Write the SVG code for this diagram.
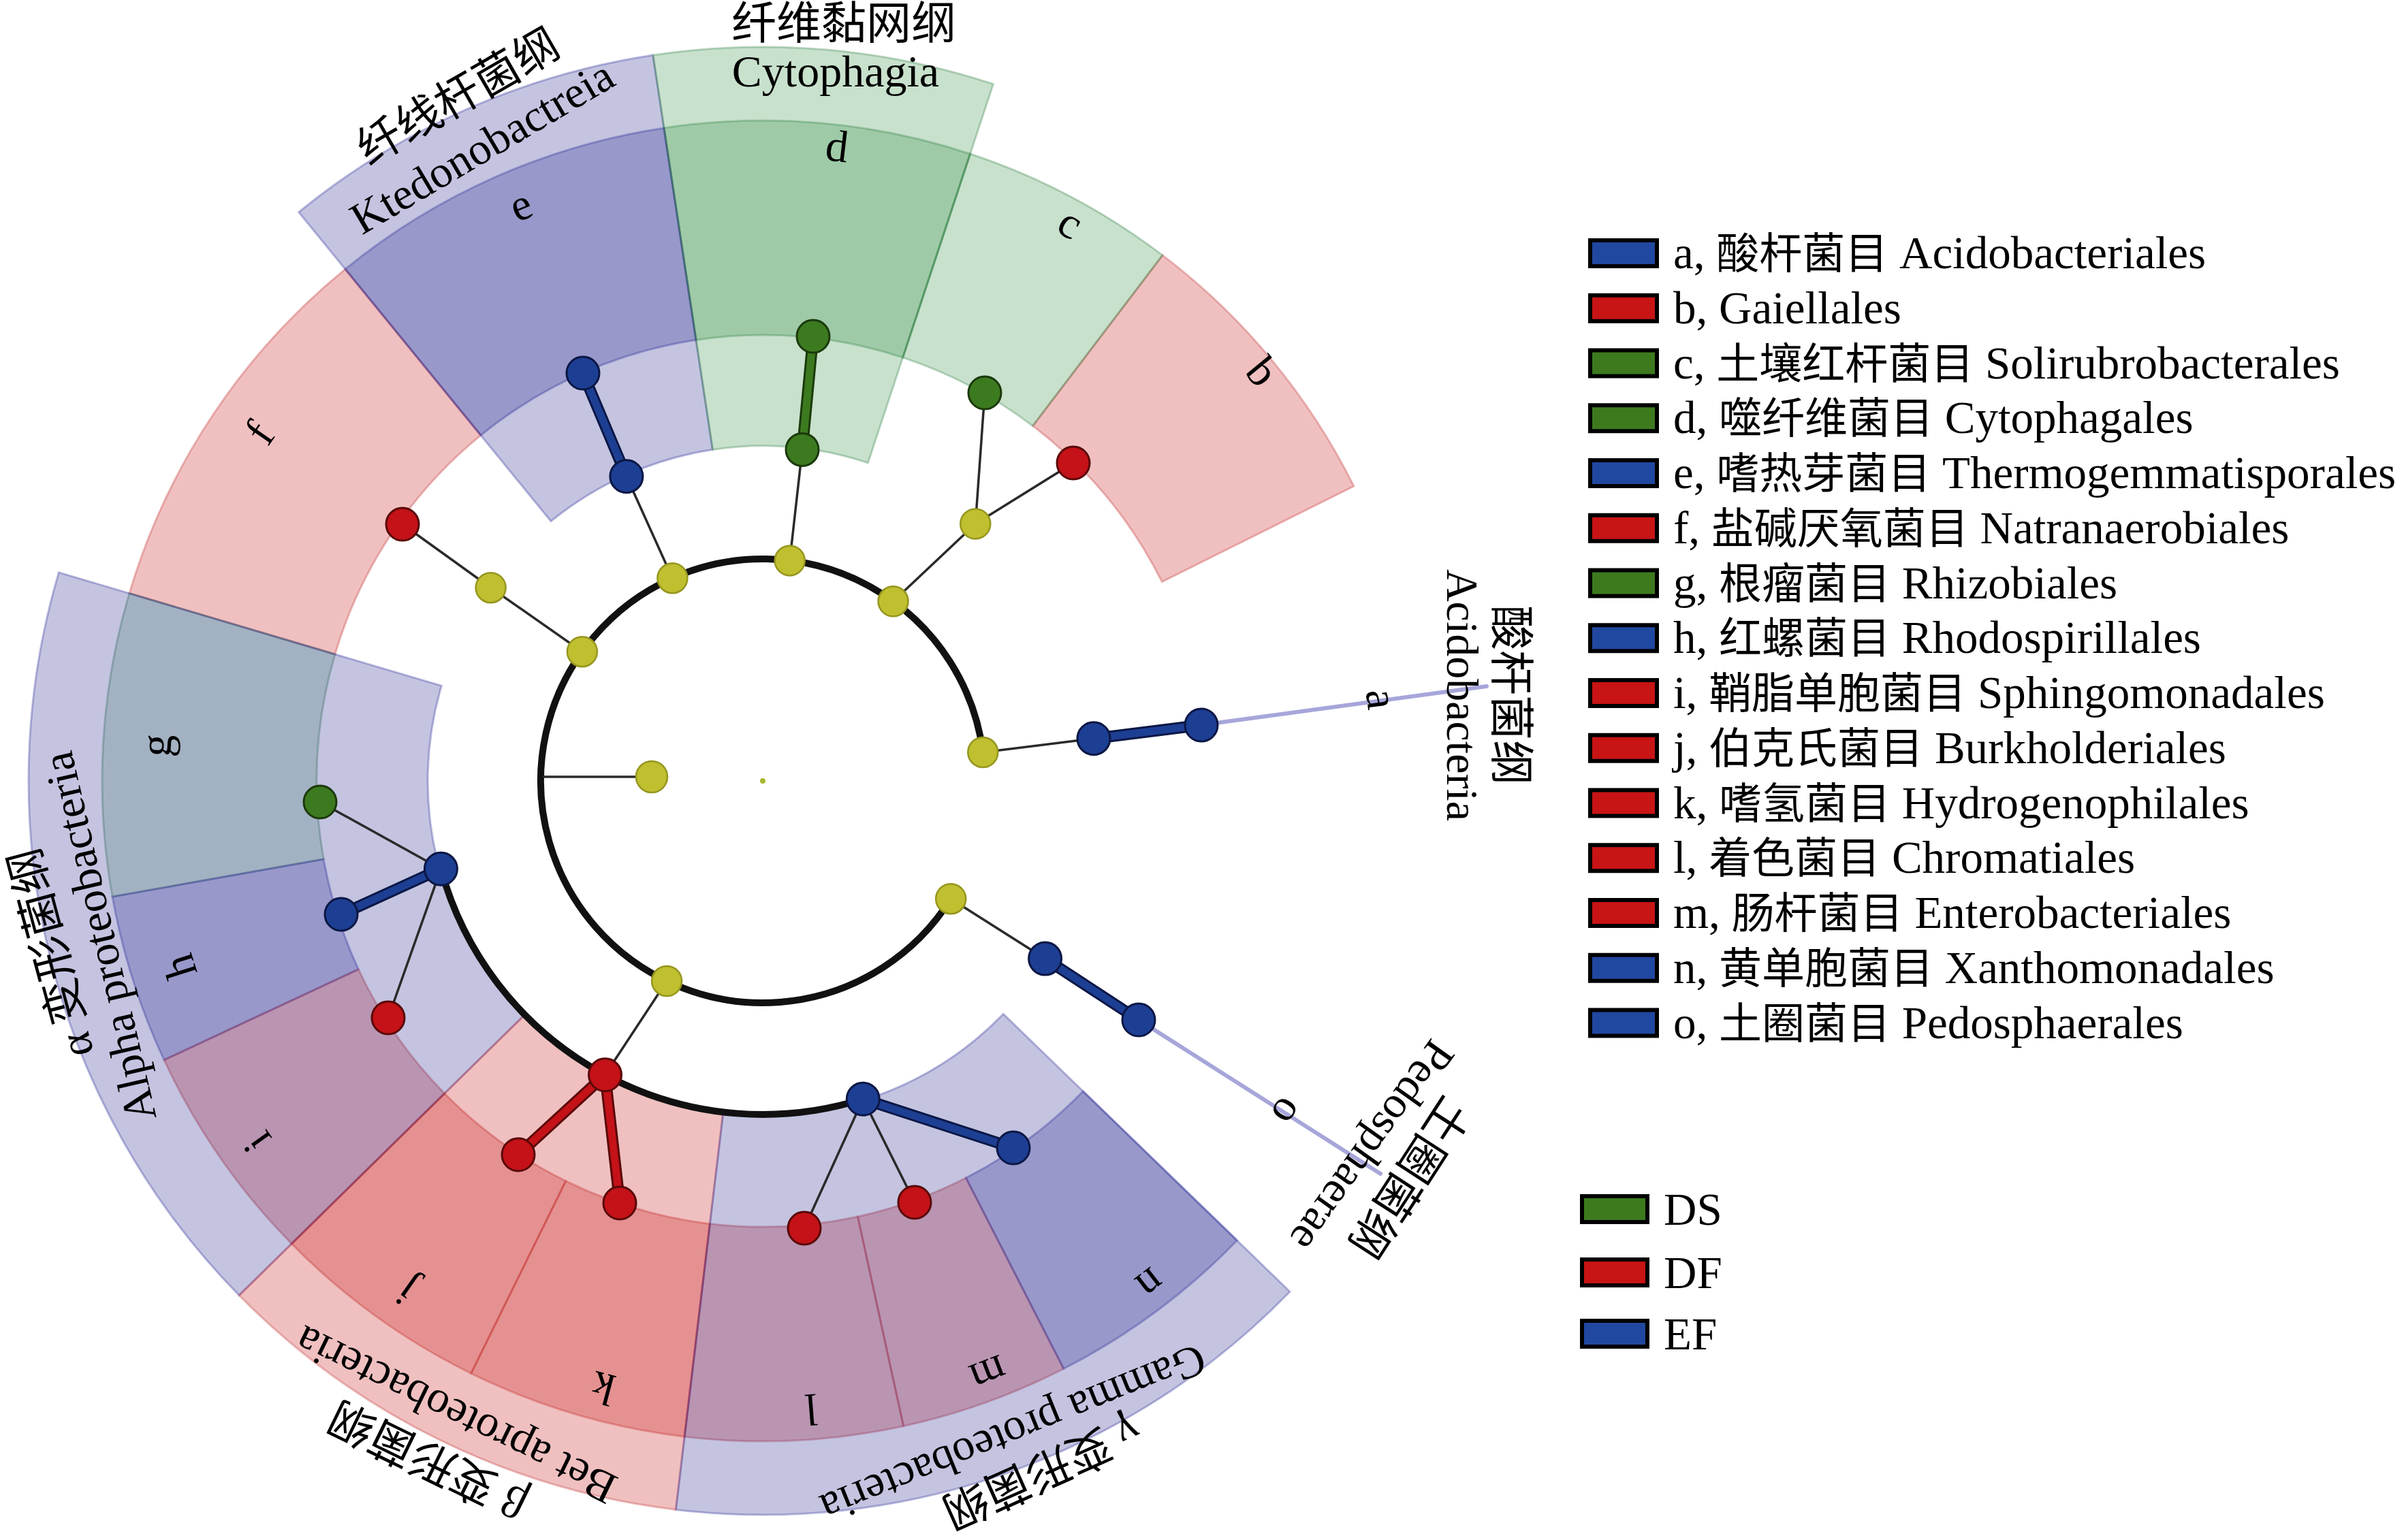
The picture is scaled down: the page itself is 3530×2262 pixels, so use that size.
<svg xmlns="http://www.w3.org/2000/svg" width="3530" height="2262" viewBox="0 0 3530 2262">
<style>
text{font-family:"Liberation Serif","Noto Sans CJK SC",serif;fill:#000;font-size:66px}
.leg text{font-size:67px}
.cj{font-size:63px}
.lab{text-anchor:middle}
.sb{fill:#1a1a8c;fill-opacity:.26;stroke:#3c3ca0;stroke-opacity:.35;stroke-width:3}
.sr{fill:#c30303;fill-opacity:.25;stroke:#c03030;stroke-opacity:.3;stroke-width:3}
.sg{fill:#238737;fill-opacity:.25;stroke:#2a7a3a;stroke-opacity:.3;stroke-width:3}
.arc{fill:none;stroke:#111;stroke-width:10}
.thin{stroke:#2a2a2a;stroke-width:3.5;fill:none}
.ext{stroke:#a6a6da;stroke-width:6;stroke-linecap:round}
.tbo{stroke:#0b1745;stroke-width:17;stroke-linecap:round}
.tbi{stroke:#1d3f93;stroke-width:11;stroke-linecap:round}
.tro{stroke:#5a0808;stroke-width:17;stroke-linecap:round}
.tri{stroke:#c41218;stroke-width:11;stroke-linecap:round}
.tgo{stroke:#1b3a0c;stroke-width:17;stroke-linecap:round}
.tgi{stroke:#3c7a1f;stroke-width:11;stroke-linecap:round}
.ny{fill:#bfbf30;stroke:#96961e;stroke-width:2.5}
.nb{fill:#1d3f93;stroke:#0b1745;stroke-width:3}
.nr{fill:#c41218;stroke:#5a0808;stroke-width:3}
.ng{fill:#3c7a1f;stroke:#1b3a0c;stroke-width:3}
.swb{fill:#2148a0;stroke:#000;stroke-width:6}
.swr{fill:#c81414;stroke:#000;stroke-width:6}
.swg{fill:#3d7a1e;stroke:#000;stroke-width:6}
</style>

<g id="order-sectors">
<path id="sec-b" class="sr" d="M1707.1 374.9 A970 970 0 0 1 1988.1 714.2 L1706.2 854.7 A655 655 0 0 0 1516.5 625.6 Z"/>
<path id="sec-c" class="sg" d="M1424.6 226.0 A970 970 0 0 1 1707.1 374.9 L1516.5 625.6 A655 655 0 0 0 1325.7 525.1 Z"/>
<path id="sec-d" class="sg" d="M975.0 187.9 A970 970 0 0 1 1424.6 226.0 L1325.7 525.1 A655 655 0 0 0 1022.1 499.4 Z"/>
<path id="sec-e" class="sb" d="M506.9 395.3 A970 970 0 0 1 975.0 187.9 L1022.1 499.4 A655 655 0 0 0 706.0 639.4 Z"/>
<path id="sec-f" class="sr" d="M189.9 871.5 A970 970 0 0 1 506.9 395.3 L706.0 639.4 A655 655 0 0 0 492.0 961.0 Z"/>
<path id="sec-g" class="sg" d="M165.0 1317.1 A970 970 0 0 1 189.9 871.5 L492.0 961.0 A655 655 0 0 0 475.2 1261.9 Z" style="fill-opacity:.2"/>
<path id="sec-h" class="sb" d="M240.9 1556.9 A970 970 0 0 1 165.0 1317.1 L475.2 1261.9 A655 655 0 0 0 526.4 1423.8 Z"/>
<path id="sec-i" class="sr" d="M428.2 1826.9 A970 970 0 0 1 240.9 1556.9 L526.4 1423.8 A655 655 0 0 0 652.8 1606.1 Z"/>
<path id="sec-j" class="sr" d="M691.7 2017.3 A970 970 0 0 1 428.2 1826.9 L652.8 1606.1 A655 655 0 0 0 830.8 1734.7 Z"/>
<path id="sec-k" class="sr" d="M1005.1 2110.2 A970 970 0 0 1 691.7 2017.3 L830.8 1734.7 A655 655 0 0 0 1042.4 1797.4 Z"/>
<path id="sec-l" class="sr" d="M1326.6 2094.7 A970 970 0 0 1 1005.1 2110.2 L1042.4 1797.4 A655 655 0 0 0 1259.5 1787.0 Z"/>
<path id="sec-m" class="sr" d="M1561.9 2010.5 A970 970 0 0 1 1326.6 2094.7 L1259.5 1787.0 A655 655 0 0 0 1418.4 1730.1 Z"/>
<path id="sec-n" class="sb" d="M1816.6 1822.0 A970 970 0 0 1 1561.9 2010.5 L1418.4 1730.1 A655 655 0 0 0 1590.4 1602.8 Z"/>
</g>
<g id="class-sectors">
<path id="sec-ktedonobacteria" class="sb" d="M438.7 311.6 A1078 1078 0 0 1 958.8 81.1 L1046.4 660.5 A492 492 0 0 0 809.0 765.7 Z"/>
<path id="sec-cytophagia" class="sg" d="M958.8 81.1 A1078 1078 0 0 1 1458.5 123.5 L1274.5 679.9 A492 492 0 0 0 1046.4 660.5 Z"/>
<path id="sec-alpha" class="sb" d="M351.1 1902.6 A1078 1078 0 0 1 86.4 840.8 L648.3 1007.3 A492 492 0 0 0 769.1 1491.8 Z"/>
<path id="sec-beta" class="sr" d="M992.4 2217.4 A1078 1078 0 0 1 351.1 1902.6 L769.1 1491.8 A492 492 0 0 0 1061.7 1635.5 Z"/>
<path id="sec-gamma" class="sb" d="M1894.1 1897.2 A1078 1078 0 0 1 992.4 2217.4 L1061.7 1635.5 A492 492 0 0 0 1473.3 1489.4 Z"/>
</g>

<g id="connectors">
<line class="ext" x1="1764" y1="1065" x2="2183" y2="1008"/>
<line class="ext" x1="1672" y1="1498" x2="2027" y2="1724"/>
<path class="arc" d="M1396.2 1320.2 A326 326 0 1 1 1443.3 1105.0"/>
<path class="arc" d="M1267.3 1614.3 A490 490 0 0 1 647.4 1276.3"/>
<line class="thin" x1="957" y1="1141" x2="797" y2="1141"/>
<line class="thin" x1="1443.3" y1="1105.0" x2="1606.0" y2="1084.7"/>
<line class="thin" x1="1396.2" y1="1320.2" x2="1534.6" y2="1408.1"/>
<polyline class="thin" points="854.9,957.2 720.6,863.2 591,770"/>
<line class="thin" x1="987.4" y1="849.2" x2="919.9" y2="699.7"/>
<line class="thin" x1="1159.7" y1="823.4" x2="1178.0" y2="660.4"/>
<line class="thin" x1="1311.6" y1="883.3" x2="1432.3" y2="769.4"/>
<line class="thin" x1="1432.3" y1="769.4" x2="1446" y2="577"/>
<line class="thin" x1="1432.3" y1="769.4" x2="1576" y2="680"/>
<line class="thin" x1="979.1" y1="1441.0" x2="888.5" y2="1578.8"/>
<line class="thin" x1="647.4" y1="1276.3" x2="470" y2="1178"/>
<line class="thin" x1="647.4" y1="1276.3" x2="570" y2="1495"/>
<line class="thin" x1="1267.3" y1="1614.3" x2="1181" y2="1804"/>
<line class="thin" x1="1267.3" y1="1614.3" x2="1343" y2="1766"/>
<line class="tbo" x1="1606.0" y1="1084.7" x2="1764" y2="1065"/><line class="tbi" x1="1606.0" y1="1084.7" x2="1764" y2="1065"/>
<line class="tbo" x1="1534.6" y1="1408.1" x2="1672" y2="1498"/><line class="tbi" x1="1534.6" y1="1408.1" x2="1672" y2="1498"/>
<line class="tbo" x1="919.9" y1="699.7" x2="856" y2="548"/><line class="tbi" x1="919.9" y1="699.7" x2="856" y2="548"/>
<line class="tgo" x1="1178.0" y1="660.4" x2="1194" y2="494"/><line class="tgi" x1="1178.0" y1="660.4" x2="1194" y2="494"/>
<line class="tbo" x1="647.4" y1="1276.3" x2="501" y2="1343"/><line class="tbi" x1="647.4" y1="1276.3" x2="501" y2="1343"/>
<line class="tro" x1="888.5" y1="1578.8" x2="761" y2="1696"/><line class="tri" x1="888.5" y1="1578.8" x2="761" y2="1696"/>
<line class="tro" x1="888.5" y1="1578.8" x2="910" y2="1767"/><line class="tri" x1="888.5" y1="1578.8" x2="910" y2="1767"/>
<line class="tbo" x1="1267.3" y1="1614.3" x2="1488" y2="1686"/><line class="tbi" x1="1267.3" y1="1614.3" x2="1488" y2="1686"/>
</g>

<g id="nodes">
<g id="node-root"><circle cx="1120" cy="1147" r="4" fill="#a9b830"/></g>
<g id="node-bacteria"><circle class="ny" cx="957" cy="1141" r="23"/></g>
<g id="node-acidobacteria-p"><circle class="ny" cx="1443.3" cy="1105.0" r="22"/></g>
<g id="node-verrucomicrobia-p"><circle class="ny" cx="1396.2" cy="1320.2" r="22"/></g>
<g id="node-proteobacteria-p"><circle class="ny" cx="979.1" cy="1441.0" r="22"/></g>
<g id="node-firmicutes-p"><circle class="ny" cx="854.9" cy="957.2" r="22"/></g>
<g id="node-chloroflexi-p"><circle class="ny" cx="987.4" cy="849.2" r="22"/></g>
<g id="node-bacteroidetes-p"><circle class="ny" cx="1159.7" cy="823.4" r="22"/></g>
<g id="node-actinobacteria-p"><circle class="ny" cx="1311.6" cy="883.3" r="22"/></g>
<g id="node-acidobacteria-c"><circle class="nb" cx="1606.0" cy="1084.7" r="24"/></g>
<g id="node-pedosphaerae-c"><circle class="nb" cx="1534.6" cy="1408.1" r="24"/></g>
<g id="node-firmicutes-c"><circle class="ny" cx="720.6" cy="863.2" r="22"/></g>
<g id="node-ktedonobacteria-c"><circle class="nb" cx="919.9" cy="699.7" r="24"/></g>
<g id="node-cytophagia-c"><circle class="ng" cx="1178.0" cy="660.4" r="24"/></g>
<g id="node-actinobacteria-c"><circle class="ny" cx="1432.3" cy="769.4" r="22"/></g>
<g id="node-alpha-c"><circle class="nb" cx="647.4" cy="1276.3" r="24"/></g>
<g id="node-beta-c"><circle class="nr" cx="888.5" cy="1578.8" r="24"/></g>
<g id="node-gamma-c"><circle class="nb" cx="1267.3" cy="1614.3" r="24"/></g>
<g id="node-a"><circle class="nb" cx="1764" cy="1065" r="24"/></g>
<g id="node-o"><circle class="nb" cx="1672" cy="1498" r="24"/></g>
<g id="node-b"><circle class="nr" cx="1576" cy="680" r="24"/></g>
<g id="node-c"><circle class="ng" cx="1446" cy="577" r="24"/></g>
<g id="node-d"><circle class="ng" cx="1194" cy="494" r="24"/></g>
<g id="node-e"><circle class="nb" cx="856" cy="548" r="24"/></g>
<g id="node-f"><circle class="nr" cx="591" cy="770" r="24"/></g>
<g id="node-g"><circle class="ng" cx="470" cy="1178" r="24"/></g>
<g id="node-h"><circle class="nb" cx="501" cy="1343" r="24"/></g>
<g id="node-i"><circle class="nr" cx="570" cy="1495" r="24"/></g>
<g id="node-j"><circle class="nr" cx="761" cy="1696" r="24"/></g>
<g id="node-k"><circle class="nr" cx="910" cy="1767" r="24"/></g>
<g id="node-l"><circle class="nr" cx="1181" cy="1804" r="24"/></g>
<g id="node-m"><circle class="nr" cx="1343" cy="1766" r="24"/></g>
<g id="node-n"><circle class="nb" cx="1488" cy="1686" r="24"/></g>
</g>

<g id="sector-letters" class="lab">
<text transform="translate(2027,1027) rotate(82.5)" dy=".3em">a</text>
<text transform="translate(1852,547) rotate(50.7)" dy=".3em">b</text>
<text transform="translate(1571,329) rotate(28.9)" dy=".3em">c</text>
<text transform="translate(1229,217) rotate(6.7)" dy=".3em">d</text>
<text transform="translate(765,303) rotate(-22.8)" dy=".3em">e</text>
<text transform="translate(383,637) rotate(-55.3)" dy=".3em">f</text>
<text transform="translate(231,1095) rotate(-86.7)" dy=".3em">g</text>
<text transform="translate(266,1419) rotate(-107.7)" dy=".3em">h</text>
<text transform="translate(379,1676) rotate(-125.5)" dy=".3em">i</text>
<text transform="translate(597,1895) rotate(-145)" dy=".3em">j</text>
<text transform="translate(886,2037) rotate(-165.3)" dy=".3em">k</text>
<text transform="translate(1191,2068) rotate(175.6)" dy=".3em">l</text>
<text transform="translate(1451,2017) rotate(159.2)" dy=".3em">m</text>
<text transform="translate(1689,1885) rotate(142.4)" dy=".3em">n</text>
<text transform="translate(1890,1632) rotate(122.2)" dy=".3em">o</text>
</g>

<g id="class-labels" class="lab">
<text transform="translate(672,141) rotate(-30)" dy=".36em">纤线杆菌纲</text>
<text transform="translate(708,216) rotate(-30.6)" dy=".33em">Ktedonobactreia</text>
<text x="1239" y="57">纤维黏网纲</text>
<text x="1227" y="127">Cytophagia</text>
<text transform="translate(2220,1021) rotate(90)" dy=".36em">酸杆菌纲</text>
<text transform="translate(2147,1021) rotate(90)" dy=".33em">Acidobacteria</text>
<text transform="translate(2015,1683) rotate(125.5)" dy=".33em">Pedosphaerae</text>
<text transform="translate(2070,1730) rotate(123)" dy=".36em">土圈菌纲</text>
<text transform="translate(1488,2106) rotate(158)" dy=".33em">Gamma proteobacteria</text>
<text transform="translate(1530,2163) rotate(156)" dy=".36em">γ 变形菌纲</text>
<text transform="translate(669,2078) rotate(206)" dy=".33em">Bet aproteobacteria</text>
<text transform="translate(628,2146) rotate(206)" dy=".36em">β 变形菌纲</text>
<text transform="translate(146,1376) rotate(-103)" dy=".33em">Alpha proteobacteria</text>
<text transform="translate(74,1400) rotate(-105)" dy=".36em">α 变形菌纲</text>
</g>

<g id="legend-orders" class="leg">
<rect class="swb" x="2335" y="353" width="98" height="38"/><text x="2457" y="394">a, <tspan class="cj">酸杆菌目</tspan> Acidobacteriales</text>
<rect class="swr" x="2335" y="433.75" width="98" height="38"/><text x="2457" y="474.75">b, Gaiellales</text>
<rect class="swg" x="2335" y="514.5" width="98" height="38"/><text x="2457" y="555.5">c, <tspan class="cj">土壤红杆菌目</tspan> Solirubrobacterales</text>
<rect class="swg" x="2335" y="595.25" width="98" height="38"/><text x="2457" y="636.25">d, <tspan class="cj">噬纤维菌目</tspan> Cytophagales</text>
<rect class="swb" x="2335" y="676" width="98" height="38"/><text x="2457" y="717">e, <tspan class="cj">嗜热芽菌目</tspan> Thermogemmatisporales</text>
<rect class="swr" x="2335" y="756.75" width="98" height="38"/><text x="2457" y="797.75">f, <tspan class="cj">盐碱厌氧菌目</tspan> Natranaerobiales</text>
<rect class="swg" x="2335" y="837.5" width="98" height="38"/><text x="2457" y="878.5">g, <tspan class="cj">根瘤菌目</tspan> Rhizobiales</text>
<rect class="swb" x="2335" y="918.25" width="98" height="38"/><text x="2457" y="959.25">h, <tspan class="cj">红螺菌目</tspan> Rhodospirillales</text>
<rect class="swr" x="2335" y="999" width="98" height="38"/><text x="2457" y="1040">i, <tspan class="cj">鞘脂单胞菌目</tspan> Sphingomonadales</text>
<rect class="swr" x="2335" y="1079.75" width="98" height="38"/><text x="2457" y="1120.75">j, <tspan class="cj">伯克氏菌目</tspan> Burkholderiales</text>
<rect class="swr" x="2335" y="1160.5" width="98" height="38"/><text x="2457" y="1201.5">k, <tspan class="cj">嗜氢菌目</tspan> Hydrogenophilales</text>
<rect class="swr" x="2335" y="1241.25" width="98" height="38"/><text x="2457" y="1282.25">l, <tspan class="cj">着色菌目</tspan> Chromatiales</text>
<rect class="swr" x="2335" y="1322" width="98" height="38"/><text x="2457" y="1363">m, <tspan class="cj">肠杆菌目</tspan> Enterobacteriales</text>
<rect class="swb" x="2335" y="1402.75" width="98" height="38"/><text x="2457" y="1443.75">n, <tspan class="cj">黄单胞菌目</tspan> Xanthomonadales</text>
<rect class="swb" x="2335" y="1483.5" width="98" height="38"/><text x="2457" y="1524.5">o, <tspan class="cj">土圈菌目</tspan> Pedosphaerales</text>
</g>

<g id="legend-groups" class="leg">
<rect class="swg" x="2323" y="1757" width="96" height="38"/><text x="2443" y="1799">DS</text>
<rect class="swr" x="2323" y="1850" width="96" height="38"/><text x="2443" y="1892">DF</text>
<rect class="swb" x="2323" y="1940" width="96" height="38"/><text x="2443" y="1982">EF</text>
</g>
</svg>
